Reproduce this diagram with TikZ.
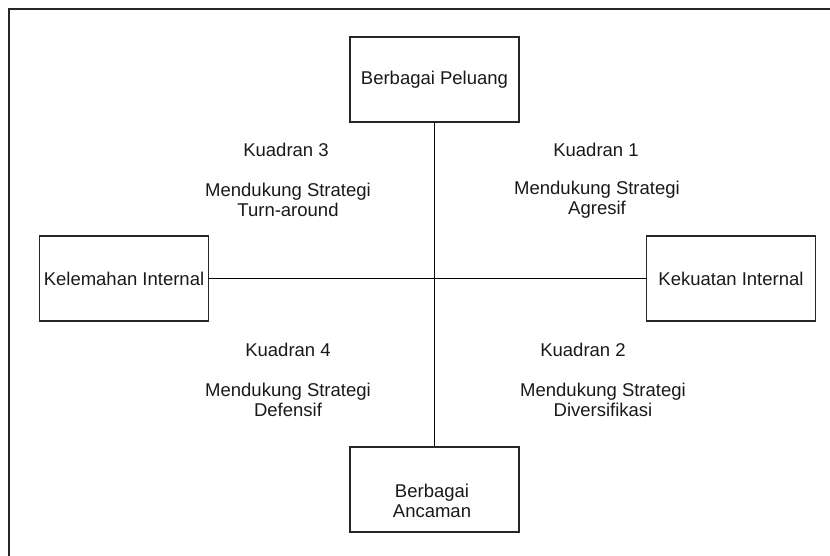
\documentclass[tikz,border=0pt]{standalone}
\usepackage{fontspec}
\setmainfont{Liberation Sans}
\usepackage{tikz}

\begin{document}
\begin{tikzpicture}[x=1pt, y=-1pt,
  box/.style={draw=black!85, line width=1.2pt, minimum width=169pt, minimum height=85pt, inner sep=0pt, font=\fontsize{18.5}{20}\selectfont, text=black!90, align=center},
  quad/.style={font=\fontsize{18.5}{20}\selectfont, text=black!90, align=center},
  axis/.style={draw=black, line width=1.3pt}]
  \useasboundingbox (0,0) rectangle (830,556);

  % ----- Frame (only top and left edges show) -----
  \draw[line width=1.5pt, black!85] (830,9) -- (9,9) -- (9,556);

  % ----- Four boxes -----
  \node[box] (peluang) at (434.5,79.5) {Berbagai Peluang};
  \node[box] (lemah) at (124,278.5) {Kelemahan Internal};
  \node[box] (kuat) at (731,278.5) {Kekuatan Internal};
  \node[box] (ancaman) at (434.5,489.5) {};
  \node[quad] (ancamanText) at (432,501) {Berbagai\\Ancaman};

  % ----- Axes -----
  \draw[axis] (peluang) -- (ancaman);
  \draw[axis] (lemah) -- (kuat);

  % ----- Quadrant labels -----
  \node[quad] (q3) at (286,150) {Kuadran 3};
  \node[quad] (q3s) at (288,200) {Mendukung Strategi\\Turn-around};
  \node[quad] (q1) at (596,150) {Kuadran 1};
  \node[quad] (q1s) at (597,200) {Mendukung Strategi\\Agresif};
  \node[quad] (q4) at (288,350) {Kuadran 4};
  \node[quad] (q4s) at (288,400) {Mendukung Strategi\\Defensif};
  \node[quad] (q2) at (583,350) {Kuadran 2};
  \node[quad] (q2s) at (603,400) {Mendukung Strategi\\Diversifikasi};
\end{tikzpicture}
\end{document}
